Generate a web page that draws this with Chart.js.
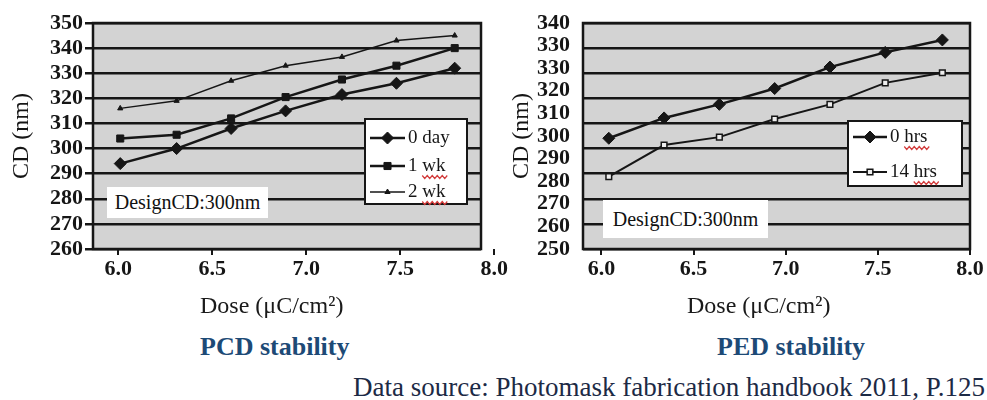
<!DOCTYPE html>
<html>
<head>
<meta charset="utf-8">
<script src="https://cdn.jsdelivr.net/npm/chart.js@4.4.0/dist/chart.umd.min.js"></script>
<style>
  body { margin: 0; width: 987px; height: 400px; position: relative; overflow: hidden; background: #fff; font-family: 'Liberation Serif', 'DejaVu Serif', serif; }
  .wrap { position: absolute; top: 0; height: 325px; }
  .note { position: absolute; background: #fff; color: #111; text-align: center; font-size: 20px; }
  .axt { position: absolute; top: 291px; font-size: 24px; line-height: 28px; color: #1a1a1a; white-space: nowrap; }
  .cap { position: absolute; top: 332px; font-weight: bold; font-size: 26px; line-height: 30px; color: #1d4a76; white-space: nowrap; }
  .src { position: absolute; right: 2px; top: 372px; font-size: 27px; line-height: 30px; color: #1c2a45; white-space: nowrap; }
</style>
</head>
<body>
<div class="wrap" style="left:0;width:520px"><canvas id="pcd"></canvas></div>
<div class="wrap" style="left:490px;width:497px"><canvas id="ped"></canvas></div>

<div class="note" style="left:107px;top:187px;width:161px;height:31px;line-height:31px">DesignCD:300nm</div>
<div class="note" style="left:603px;top:200px;width:165px;height:38px;line-height:38px">DesignCD:300nm</div>

<div class="axt" style="left:200px">Dose (μC/cm²)</div>
<div class="axt" style="left:687px">Dose (μC/cm²)</div>
<div class="cap" style="left:200px">PCD stability</div>
<div class="cap" style="left:717px">PED stability</div>
<div class="src">Data source: Photomask fabrication handbook 2011, P.125</div>

<script>
// PCD stability (left)
const pcdDose = [6.01, 6.31, 6.6, 6.89, 7.19, 7.48, 7.79];
const pcd0day = [294, 300, 308, 315, 321.5, 326, 332];
const pcd1wk  = [304, 305.5, 312, 320.5, 327.5, 333, 340];
const pcd2wk  = [316, 319, 327, 333, 336.5, 343, 345];
const pcdTicksX = [6.0, 6.5, 7.0, 7.5, 8.0];
const pcdTicksY = [260, 270, 280, 290, 300, 310, 320, 330, 340, 350];

// PED stability (right)
const pedDose = [6.04, 6.34, 6.64, 6.94, 7.24, 7.54, 7.85];
const ped0hrs  = [299, 308, 314, 321, 330.5, 337, 342.5];
const ped14hrs = [282, 296, 299.5, 307.5, 314, 323.5, 328];
const pedTicksX = [6.0, 6.5, 7.0, 7.5, 8.0];
const pedTicksY = [250, 260, 270, 280, 290, 300, 310, 320, 330, 340, 350];
const pedTickLabels = ['250', '260', '270', '280', '290', '300', '310', '320', '330', '330', '340'];
const pedGridY = [260, 270, 280, 290, 300, 310, 320, 330, 340, 350];

const serif = "'Liberation Serif', 'DejaVu Serif', serif";
const ink = '#161616';

// grey plot background + black frame
const plotFrame = {
  id: 'plotFrame',
  beforeDraw(chart) {
    const { ctx, chartArea: a } = chart;
    ctx.save();
    ctx.fillStyle = '#d3d3d3';
    ctx.fillRect(a.left, a.top, a.width, a.height);
    ctx.restore();
  },
  afterDatasetsDraw(chart) {
    const { ctx, chartArea: a } = chart;
    ctx.save();
    ctx.strokeStyle = ink;
    ctx.lineWidth = 2.5;
    ctx.strokeRect(a.left, a.top, a.width, a.height);
    ctx.restore();
  }
};

// boxed legend inside the plot, like the scanned figure
const insideLegend = {
  id: 'insideLegend',
  afterDraw(chart, args, o) {
    const ctx = chart.ctx;
    ctx.save();
    ctx.fillStyle = '#fff';
    ctx.fillRect(o.x, o.y, o.w, o.h);
    ctx.strokeStyle = ink;
    ctx.lineWidth = 2;
    ctx.strokeRect(o.x, o.y, o.w, o.h);
    ctx.font = o.font;
    ctx.textBaseline = 'middle';
    chart.data.datasets.forEach((ds, i) => {
      const y = o.rows[i];
      ctx.strokeStyle = ds.borderColor;
      ctx.lineWidth = ds.borderWidth;
      ctx.beginPath();
      ctx.moveTo(o.x1, y);
      ctx.lineTo(o.x2, y);
      ctx.stroke();
      ctx.fillStyle = ds.pointBackgroundColor;
      ctx.strokeStyle = ds.pointBorderColor;
      ctx.lineWidth = ds.pointBorderWidth;
      Chart.helpers.drawPoint(ctx, { pointStyle: ds.pointStyle, radius: ds.pointRadius, borderWidth: ds.pointBorderWidth, rotation: 0 }, (o.x1 + o.x2) / 2, y);
      ctx.fillStyle = ink;
      ctx.fillText(ds.label, o.tx, y);
      if (o.squiggle.includes(i)) {
        const head = ds.label.split(' ')[0] + ' ';
        const x0 = o.tx + ctx.measureText(head).width;
        const x1 = o.tx + ctx.measureText(ds.label).width + 4;
        ctx.strokeStyle = '#d23a3a';
        ctx.lineWidth = 1.2;
        ctx.beginPath();
        for (let x = x0, k = 0; x <= x1; x += 2.5, k++) {
          const yy = y + 11 + (k % 2 ? 1.5 : -1.5);
          if (k === 0) ctx.moveTo(x, yy); else ctx.lineTo(x, yy);
        }
        ctx.stroke();
      }
    });
    ctx.restore();
  }
};

function series(label, xs, ys, style) {
  return Object.assign({
    label: label,
    data: xs.map((x, i) => ({ x: x, y: ys[i] })),
    borderColor: ink,
    borderWidth: 2.5,
    pointBackgroundColor: ink,
    pointBorderColor: ink,
    pointBorderWidth: 1,
    pointRadius: 5,
    tension: 0
  }, style);
}

function xScale(min, max, ticks) {
  return {
    type: 'linear', min: min, max: max,
    afterBuildTicks: s => { s.ticks = ticks.map(v => ({ value: v })); },
    afterFit: s => { s.height = 76; s.paddingLeft = 0; s.paddingRight = 0; },
    ticks: { autoSkip: false, maxRotation: 0, padding: 1, color: ink, font: { family: serif, size: 22, weight: 'bold' }, callback: v => v.toFixed(1) },
    grid: { drawOnChartArea: false, drawTicks: true, tickLength: 6, color: ink, lineWidth: 2 },
    border: { display: false }
  };
}

function yTitle(pad) {
  return { display: true, text: 'CD (nm)', color: ink, font: { family: serif, size: 24 }, padding: { top: pad, bottom: 0 } };
}

new Chart(document.getElementById('pcd'), {
  type: 'line',
  data: {
    datasets: [
      series('0 day', pcdDose, pcd0day, { pointStyle: 'rectRot', pointRadius: 6 }),
      series('1 wk', pcdDose, pcd1wk, { pointStyle: 'rect', pointRadius: 5 }),
      series('2 wk', pcdDose, pcd2wk, { pointStyle: 'triangle', pointRadius: 3, borderWidth: 1.5 })
    ]
  },
  options: {
    responsive: true,
    maintainAspectRatio: false,
    animation: false,
    layout: { padding: { left: 0, right: 39, top: 23, bottom: 0 } },
    plugins: {
      legend: { display: false },
      tooltip: { enabled: false },
      insideLegend: { x: 365, y: 119, w: 102, h: 85, rows: [138, 166, 192], x1: 370, x2: 405, tx: 408, font: "19px 'Liberation Serif'", squiggle: [1, 2] }
    },
    scales: {
      x: xScale(5.865, 7.93, pcdTicksX),
      y: {
        min: 260, max: 350,
        afterBuildTicks: s => { s.ticks = pcdTicksY.map(v => ({ value: v })); },
        afterFit: s => { s.width = 93; s.paddingTop = 0; s.paddingBottom = 0; },
        ticks: { autoSkip: false, padding: 2, color: ink, font: { family: serif, size: 22, weight: 'bold' } },
        grid: { color: ink, lineWidth: 2.5, drawTicks: true, tickLength: 8 },
        border: { display: false },
        title: yTitle(7)
      }
    }
  },
  plugins: [plotFrame, insideLegend]
});

new Chart(document.getElementById('ped'), {
  type: 'line',
  data: {
    datasets: [
      series('0 hrs', pedDose, ped0hrs, { pointStyle: 'rectRot', pointRadius: 6 }),
      series('14 hrs', pedDose, ped14hrs, { pointStyle: 'rect', pointRadius: 4, borderWidth: 2, pointBackgroundColor: '#eeeeee', pointBorderWidth: 1.5 })
    ]
  },
  options: {
    responsive: true,
    maintainAspectRatio: false,
    animation: false,
    layout: { padding: { left: 0, right: 17, top: 23, bottom: 0 } },
    plugins: {
      legend: { display: false },
      tooltip: { enabled: false },
      insideLegend: { x: 358, y: 121, w: 114, h: 65, rows: [137, 172], x1: 363, x2: 397, tx: 400, font: "19px 'Liberation Serif'", squiggle: [0, 1] }
    },
    scales: {
      x: xScale(5.9, 8.0, pedTicksX),
      y: {
        min: 250, max: 350,
        afterBuildTicks: s => { s.ticks = pedTicksY.map(v => ({ value: v })); },
        afterFit: s => { s.width = 93; s.paddingTop = 0; s.paddingBottom = 0; },
        ticks: { autoSkip: false, padding: 5, color: ink, font: { family: serif, size: 22, weight: 'bold' },
          callback: (v) => pedTickLabels[pedTicksY.indexOf(v)] },
        grid: { display: false },
        border: { display: false },
        title: yTitle(17)
      },
      yGrid: {
        position: 'right',
        min: 260, max: 350,
        afterBuildTicks: s => { s.ticks = pedGridY.map(v => ({ value: v })); },
        afterFit: s => { s.width = 0; s.paddingTop = 0; s.paddingBottom = 0; },
        ticks: { display: false },
        grid: { color: ink, lineWidth: 2.5, drawTicks: false },
        border: { display: false }
      }
    }
  },
  plugins: [plotFrame, insideLegend]
});
</script>
</body>
</html>
